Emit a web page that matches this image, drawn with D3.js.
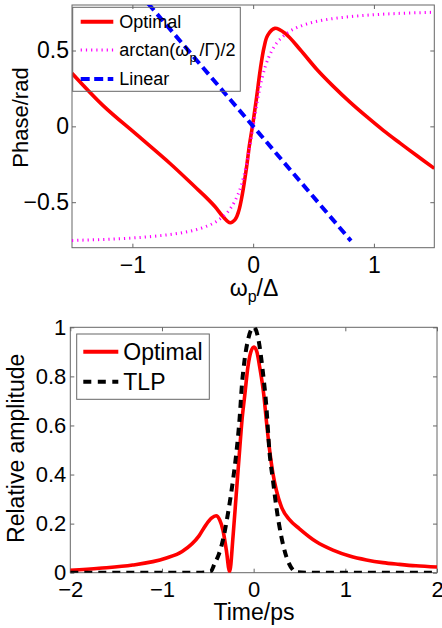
<!DOCTYPE html>
<html><head><meta charset="utf-8">
<script src="https://cdn.jsdelivr.net/npm/d3@7"></script>
<style>
html,body{margin:0;padding:0;background:#fff;}
svg{display:block;font-family:"Liberation Sans",Arial,Helvetica,sans-serif;}
</style></head>
<body><svg id="c" width="442" height="628"></svg>
<script>
// ---------- top panel data ----------
const phaseX = [-1.5,-1.24,-0.964,-0.688,-0.48,-0.40,-0.315,-0.25,-0.19,-0.15,-0.12,-0.09,-0.06,-0.03,0,0.03,0.06,0.09,0.12,0.18,0.265,0.39,0.528,0.666,0.804,0.943,1.08,1.219,1.357,1.5];
const phaseOptimal = [0.35,0.135,-0.055,-0.245,-0.40,-0.46,-0.53,-0.595,-0.635,-0.615,-0.56,-0.45,-0.30,-0.12,0.03,0.2,0.38,0.52,0.6,0.646,0.613,0.505,0.375,0.262,0.158,0.062,-0.028,-0.112,-0.194,-0.277];
const arctanX = [-1.5,-1.25,-1.0,-0.8,-0.6,-0.5,-0.4,-0.3,-0.25,-0.2,-0.15,-0.1,-0.05,0,0.05,0.1,0.15,0.2,0.25,0.3,0.4,0.5,0.6,0.8,1.0,1.25,1.5];
const arctanY = [-0.752,-0.746,-0.736,-0.723,-0.703,-0.687,-0.663,-0.625,-0.595,-0.554,-0.491,-0.393,-0.232,0,0.232,0.393,0.491,0.554,0.595,0.625,0.663,0.687,0.703,0.723,0.736,0.746,0.752];
const linearX = [-0.87,0,0.81];
const linearY = [0.81,0,-0.755];
const topXTicks = [-1,0,1];
const topYTicks = [-0.5,0,0.5];
const topLegend = ["Optimal","arctan","Linear"];

// ---------- bottom panel data ----------
const timeOptX = [-2,-1.685,-1.32,-0.96,-0.78,-0.596,-0.52,-0.46,-0.41,-0.37,-0.335,-0.298,-0.262,-0.225,-0.189,-0.153,-0.125,-0.098,-0.062,-0.03,0.003,0.035,0.065,0.113,0.138,0.174,0.21,0.247,0.302,0.393,0.5,0.684,0.865,1.047,1.23,1.41,1.59,1.77,2];
const timeOptY = [0.01,0.018,0.031,0.059,0.086,0.15,0.195,0.222,0.232,0.215,0.174,0.092,0.004,0.147,0.324,0.50,0.63,0.72,0.84,0.9,0.92,0.9,0.84,0.717,0.622,0.50,0.405,0.337,0.269,0.215,0.179,0.126,0.092,0.068,0.052,0.041,0.034,0.028,0.023];
const tlpX = [-2,-0.6,-0.47,-0.425,-0.38,-0.335,-0.28,-0.225,-0.189,-0.153,-0.127,-0.098,-0.062,-0.03,0.005,0.047,0.1,0.138,0.174,0.21,0.247,0.302,0.357,0.43,0.47,0.6,2];
const tlpY = [0,0,0.004,0.038,0.075,0.133,0.242,0.378,0.487,0.63,0.77,0.87,0.948,0.988,1.0,0.96,0.82,0.68,0.487,0.378,0.269,0.147,0.065,0.011,0.002,0,0];
const botXTicks = [-2,-1,0,1,2];
const botYTicks = [0,0.2,0.4,0.6,0.8,1];
const botLegend = ["Optimal","TLP"];

const svg = d3.select("#c");
const AX = "#666";

function panel(o){
  const g = svg.append("g");
  const x = d3.scaleLinear().domain(o.xd).range(o.xr);
  const y = d3.scaleLinear().domain(o.yd).range(o.yr);
  const id = "clip"+o.id;
  svg.append("clipPath").attr("id",id).append("rect")
    .attr("x",o.xr[0]).attr("y",o.yr[1]).attr("width",o.xr[1]-o.xr[0]).attr("height",o.yr[0]-o.yr[1]);
  // axes
  const fmt = d=> d<0 ? "\u2212"+Math.abs(d) : String(d);
  const ab = g.append("g").attr("transform",`translate(0,${o.yr[0]})`)
    .call(d3.axisBottom(x).tickValues(o.xt).tickSize(-4).tickPadding(o.xpad).tickFormat(fmt));
  const at = g.append("g").attr("transform",`translate(0,${o.yr[1]})`)
    .call(d3.axisTop(x).tickValues(o.xt).tickSize(-4).tickFormat(""));
  const al = g.append("g").attr("transform",`translate(${o.xr[0]},0)`)
    .call(d3.axisLeft(y).tickValues(o.yt).tickSize(-4).tickPadding(o.ypad).tickFormat(fmt));
  const ar = g.append("g").attr("transform",`translate(${o.xr[1]},0)`)
    .call(d3.axisRight(y).tickValues(o.yt).tickSize(-4).tickFormat(""));
  [ab,at,al,ar].forEach(a=>{
    a.select(".domain").remove();
    a.selectAll("line").attr("stroke",AX);
    a.selectAll("text").attr("fill","#000").style("font-size",o.tfs+"px").style("font-family",'"Liberation Sans",Arial,sans-serif');
  });
  g.append("rect").attr("x",o.xr[0]).attr("y",o.yr[1]).attr("width",o.xr[1]-o.xr[0]).attr("height",o.yr[0]-o.yr[1])
    .attr("fill","none").attr("stroke",AX).attr("stroke-width",1);
  const lines = g.append("g").attr("clip-path",`url(#${id})`);
  o.series.forEach(s=>{
    const pts = s.x.map((v,i)=>[v,s.y[i]]);
    lines.append("path").attr("d", d3.line().x(d=>x(d[0])).y(d=>y(d[1])).curve(s.curve||d3.curveCatmullRom.alpha(0.5))(pts))
      .attr("fill","none").attr("stroke",s.color).attr("stroke-width",s.w)
      .attr("stroke-dasharray",s.dash||null).attr("stroke-linecap",s.cap||"butt").attr("stroke-linejoin","round");
  });
  return {g,x,y};
}

// top panel
const T = panel({id:"t", xd:[-1.5,1.5], xr:[72,434.3], yd:[-0.8,0.8], yr:[247.7,5], xt:topXTicks, yt:topYTicks,
  xpad:9, ypad:3, tfs:23,
  series:[
    {x:phaseX,y:phaseOptimal,color:"#ff0000",w:3.6},
    {x:arctanX,y:arctanY,color:"#ff00ff",w:3,dash:"1.2,4",curve:d3.curveMonotoneX},
    {x:linearX,y:linearY,color:"#0000ff",w:4,dash:"9,5",curve:d3.curveLinear}
  ]});

// bottom panel
const B = panel({id:"b", xd:[-2,2], xr:[70.3,437], yd:[0,1], yr:[572.7,327.3], xt:botXTicks, yt:botYTicks,
  xpad:9, ypad:4, tfs:22,
  series:[
    {x:timeOptX,y:timeOptY,color:"#ff0000",w:3.6,curve:d3.curveMonotoneX},
    {x:tlpX,y:tlpY,color:"#000000",w:4,dash:"8,6",curve:d3.curveMonotoneX}
  ]});

// axis labels
svg.append("text").attr("transform","translate(28,117.5) rotate(-90)").attr("text-anchor","middle")
  .style("font-size","22px").text("Phase/rad");
const xl = svg.append("text").attr("x",254).attr("y",296).attr("text-anchor","middle").style("font-size","23px");
xl.append("tspan").text("\u03c9");
xl.append("tspan").attr("dy",6).style("font-size","16px").text("p");
xl.append("tspan").attr("dy",-6).text("/\u0394");
svg.append("text").attr("transform","translate(23.5,448.3) rotate(-90)").attr("text-anchor","middle")
  .style("font-size","23px").text("Relative amplitude");
svg.append("text").attr("x",254).attr("y",620).attr("text-anchor","middle").style("font-size","23px").text("Time/ps");

// top legend
const lg1 = svg.append("g");
lg1.append("rect").attr("x",72.7).attr("y",7.3).attr("width",167.6).attr("height",84).attr("fill","none").attr("stroke",AX);
const tl = [
  {c:"#ff0000",w:4,d:null,y:21.7},
  {c:"#ff00ff",w:3,d:"1.2,4",y:50},
  {c:"#0000ff",w:4,d:"9,4.5",y:79}
];
tl.forEach((e,i)=>{
  lg1.append("line").attr("x1",80.7).attr("x2",113.3).attr("y1",e.y).attr("y2",e.y)
    .attr("stroke",e.c).attr("stroke-width",e.w).attr("stroke-dasharray",e.d);
});
lg1.append("text").attr("x",119.3).attr("y",21.7).attr("dy","0.35em").style("font-size","18px").text(topLegend[0]);
const at2 = lg1.append("text").attr("x",119.3).attr("y",50).attr("dy","0.35em").style("font-size","18px");
at2.append("tspan").text("arctan(\u03c9");
at2.append("tspan").attr("dy",6).style("font-size","13px").text("p");
at2.append("tspan").attr("dy",-6).attr("dx",3).text("/\u0393)/2");
lg1.append("text").attr("x",119.3).attr("y",79).attr("dy","0.35em").style("font-size","18px").text(topLegend[2]);

// bottom legend
const lg2 = svg.append("g");
lg2.append("rect").attr("x",76.7).attr("y",334).attr("width",132.6).attr("height",65.3).attr("fill","none").attr("stroke",AX);
lg2.append("line").attr("x1",83.3).attr("x2",118.3).attr("y1",351.7).attr("y2",351.7).attr("stroke","#ff0000").attr("stroke-width",4);
lg2.append("line").attr("x1",83.3).attr("x2",118.3).attr("y1",381.7).attr("y2",381.7).attr("stroke","#000").attr("stroke-width",4).attr("stroke-dasharray","8,6.5");
botLegend.forEach((t,i)=>{
  lg2.append("text").attr("x",123.3).attr("y",i?381.7:351.7).attr("dy","0.35em").style("font-size","23px").text(t);
});
</script></body></html>
